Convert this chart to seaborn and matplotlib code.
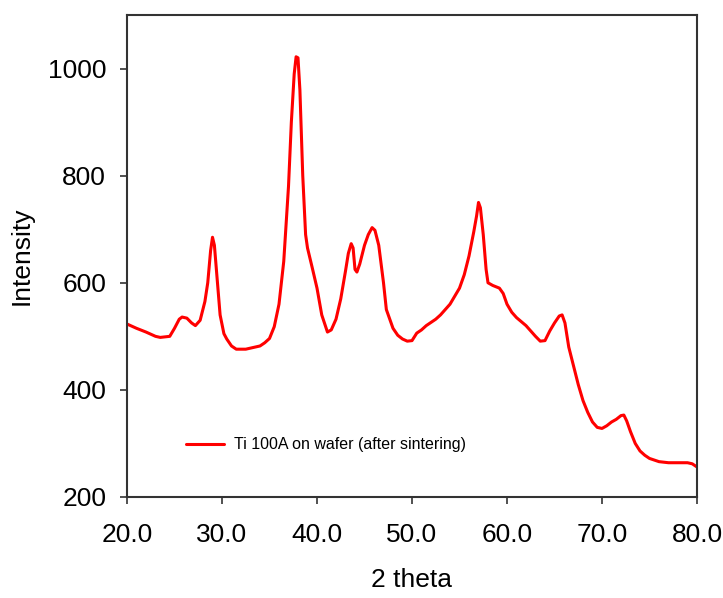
import matplotlib
matplotlib.use("Agg")
import matplotlib.pyplot as plt
import seaborn as sns
import pandas as pd
from matplotlib.ticker import FormatStrFormatter

two_theta = [20.0, 21.0, 22.0, 23.0, 23.5, 24.5, 25.0, 25.5, 25.8, 26.3, 26.8, 27.2, 27.7,
             28.2, 28.5, 28.8, 29.0, 29.2, 29.5, 29.8, 30.2, 30.5, 31.0, 31.5, 32.5,
             33.0, 34.0, 34.5, 35.0, 35.5, 36.0, 36.5, 37.0, 37.3, 37.6, 37.8, 38.0,
             38.2, 38.5, 38.8, 39.0, 39.5, 40.0, 40.5, 41.1, 41.5, 42.0, 42.5, 43.0,
             43.3, 43.6, 43.8, 44.0, 44.2, 44.5, 45.0, 45.4, 45.8, 46.1, 46.5, 47.0,
             47.3, 48.0, 48.5, 49.0, 49.5, 50.0, 50.5, 51.0, 51.5, 52.5, 53.0, 54.0,
             54.5, 55.0, 55.5, 56.0, 56.5, 56.8, 57.0, 57.2, 57.5, 57.8, 58.0, 58.5,
             59.2, 59.6, 60.0, 60.5, 61.0, 62.0, 62.5, 63.0, 63.5, 64.0, 64.5, 65.0,
             65.5, 65.8, 66.1, 66.5, 67.0, 67.5, 68.0, 68.5, 69.0, 69.5, 70.0, 70.5,
             71.0, 71.5, 72.0, 72.3, 72.6, 73.0, 73.5, 74.0, 74.5, 75.0, 76.0, 77.0,
             78.0, 79.0, 79.5, 80.0]
intensity = [523, 515, 508, 500, 498, 500, 515, 532, 536, 534, 525, 520, 530,
             565, 600, 660, 685, 670, 605, 540, 505, 495, 482, 476, 476,
             478, 482, 488, 496, 518, 560, 640, 780, 900, 990, 1022, 1020,
             960, 800, 690, 665, 628, 590, 540, 508, 512, 532, 570, 622,
             655, 673, 665, 625, 620, 635, 670, 690, 703, 698, 670, 600,
             550, 515, 502, 495, 491, 492, 506, 512, 520, 532, 540, 560,
             575, 590, 615, 650, 695, 725, 750, 740, 690, 625, 600, 595,
             590, 580, 560, 545, 535, 520, 510, 500, 491, 492, 510, 525,
             538, 540, 525, 480, 445, 410, 380, 358, 340, 330, 328, 333,
             340, 345, 352, 353, 342, 322, 300, 286, 278, 272, 266, 264,
             264, 264, 262, 256]
series_label = "Ti 100A on wafer (after sintering)"
x_ticks = [20.0, 30.0, 40.0, 50.0, 60.0, 70.0, 80.0]
y_ticks = [200, 400, 600, 800, 1000]

df = pd.DataFrame({"2 theta": two_theta, "Intensity": intensity,
                   "series": [series_label] * len(two_theta)})

sns.set_style("white")
plt.rcParams["font.family"] = ["Liberation Sans", "DejaVu Sans"]
plt.rcParams["text.color"] = "black"
plt.rcParams["axes.labelcolor"] = "black"

fig = plt.figure(figsize=(7.23, 5.98), dpi=100)
ax = fig.add_axes([127 / 723, 1 - 497 / 598, 570 / 723, 482 / 598])

sns.lineplot(data=df, x="2 theta", y="Intensity", hue="series",
             palette=["#ff0000"], linewidth=2.2, ax=ax, sort=False)

ax.set_xlim(20, 80)
ax.set_ylim(200, 1100)
ax.set_xticks(x_ticks)
ax.set_yticks(y_ticks)
ax.xaxis.set_major_formatter(FormatStrFormatter("%.1f"))

for s in ax.spines.values():
    s.set_visible(True)
    s.set_color("#333333")
    s.set_linewidth(1.5)

ax.tick_params(axis="both", which="major", direction="out", length=5, width=1.2,
               color="#333333", labelsize=19, labelcolor="black",
               bottom=True, left=True)
ax.tick_params(axis="y", pad=10)
ax.tick_params(axis="x", pad=14)

ax.set_xlabel("2 theta", fontsize=19, labelpad=15, color="black")
ax.set_ylabel("Intensity", fontsize=19, labelpad=10, color="black")

leg = ax.legend(loc="center left", bbox_to_anchor=(0.1035, 0.108), frameon=False,
                handlelength=2.4, handletextpad=0.6, borderpad=0, borderaxespad=0,
                prop={"family": ["Liberation Sans", "DejaVu Sans"], "size": 11.5})

fig.savefig("out.png", dpi=100)
